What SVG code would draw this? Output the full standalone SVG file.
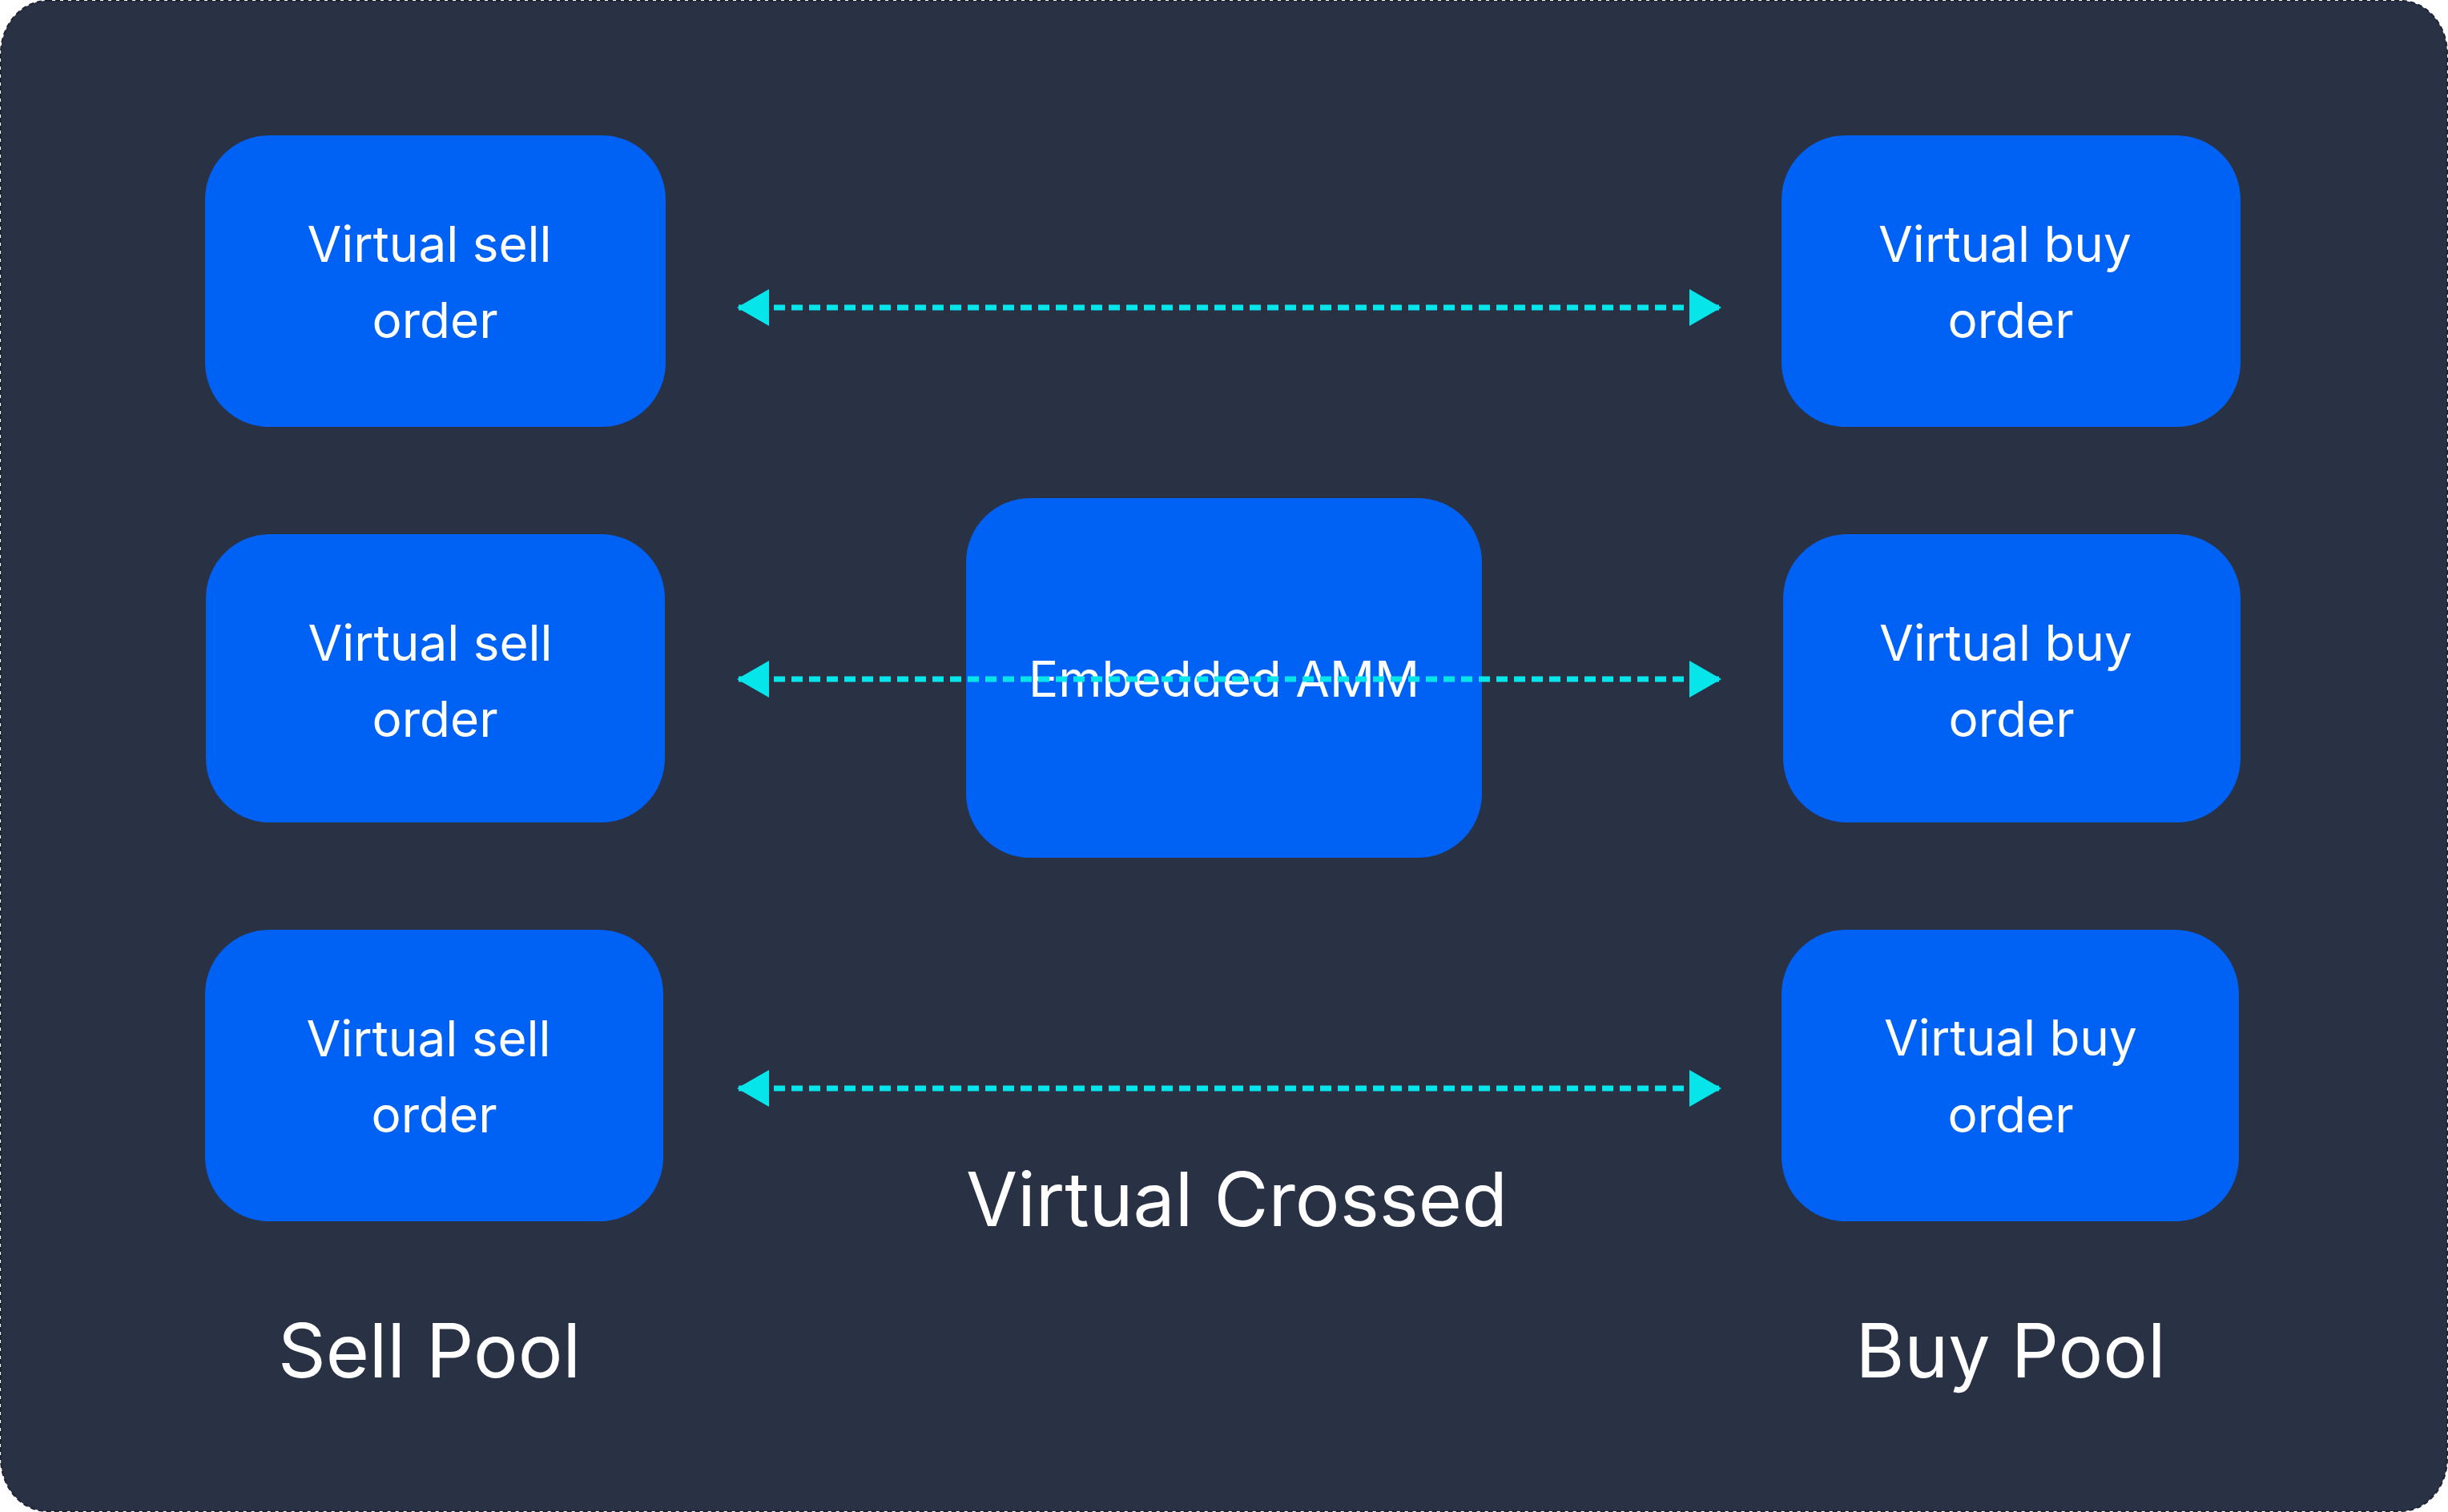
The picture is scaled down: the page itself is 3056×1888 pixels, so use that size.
<svg xmlns="http://www.w3.org/2000/svg" width="3056" height="1888" viewBox="0 0 3056 1888">
  <style>
    .node rect { fill: #0062F5; }
    .lbl { font-family: Inter, "Liberation Sans", sans-serif; fill: #FFFFFF; text-anchor: middle; }
    .nl { font-size: 62px; }
    .pool { font-size: 93px; }
    .conn { stroke: #06E5EA; stroke-width: 7; stroke-dasharray: 14 8; fill: none; }
  </style>
  <defs>
    <marker id="ah" viewBox="0 0 40 46" refX="38" refY="23" markerWidth="40" markerHeight="46" markerUnits="userSpaceOnUse" orient="auto-start-reverse">
      <path d="M0 0 L40 23 L0 46 Z" fill="#06E5EA"/>
    </marker>
  </defs>
  <rect x="0" y="0" width="3056" height="1888" fill="#FFFFFF"/>
  <rect x="1" y="1" width="3054" height="1886" rx="58" ry="66" fill="#293145" stroke="#1E2333" stroke-width="2" stroke-dasharray="6 4"/>

  <g id="sell1" class="node">
    <rect x="256" y="169" width="575" height="364" rx="80" ry="80"/>
    <text class="lbl nl" x="536" y="327">Virtual sell</text>
    <text class="lbl nl" x="543" y="422">order</text>
  </g>
  <g id="sell2" class="node">
    <rect x="257" y="667" width="573" height="360" rx="80" ry="80"/>
    <text class="lbl nl" x="537" y="825">Virtual sell</text>
    <text class="lbl nl" x="543" y="920">order</text>
  </g>
  <g id="sell3" class="node">
    <rect x="256" y="1161" width="572" height="364" rx="80" ry="80"/>
    <text class="lbl nl" x="535" y="1319">Virtual sell</text>
    <text class="lbl nl" x="542" y="1414">order</text>
  </g>
  <g id="buy1" class="node">
    <rect x="2224" y="169" width="573" height="364" rx="80" ry="80"/>
    <text class="lbl nl" x="2503" y="327">Virtual buy</text>
    <text class="lbl nl" x="2510" y="422">order</text>
  </g>
  <g id="buy2" class="node">
    <rect x="2226" y="667" width="571" height="360" rx="80" ry="80"/>
    <text class="lbl nl" x="2504" y="825">Virtual buy</text>
    <text class="lbl nl" x="2511" y="920">order</text>
  </g>
  <g id="buy3" class="node">
    <rect x="2224" y="1161" width="571" height="364" rx="80" ry="80"/>
    <text class="lbl nl" x="2510" y="1318">Virtual buy</text>
    <text class="lbl nl" x="2510" y="1414">order</text>
  </g>
  <g id="amm" class="node">
    <rect x="1206" y="622" width="644" height="449" rx="80" ry="80"/>
    <text class="lbl nl" x="1528" y="870">Embedded AMM</text>
  </g>

  <g id="connectors">
    <line class="conn" x1="922" y1="384" x2="2147" y2="384" marker-start="url(#ah)" marker-end="url(#ah)"/>
    <line class="conn" x1="922" y1="848" x2="2147" y2="848" marker-start="url(#ah)" marker-end="url(#ah)"/>
    <line class="conn" x1="922" y1="1359" x2="2147" y2="1359" marker-start="url(#ah)" marker-end="url(#ah)"/>
  </g>

  <g id="labels">
    <text class="lbl pool" x="1544" y="1531">Virtual Crossed</text>
    <text class="lbl pool" x="536" y="1720">Sell Pool</text>
    <text class="lbl pool" x="2510" y="1720">Buy Pool</text>
  </g>
</svg>
